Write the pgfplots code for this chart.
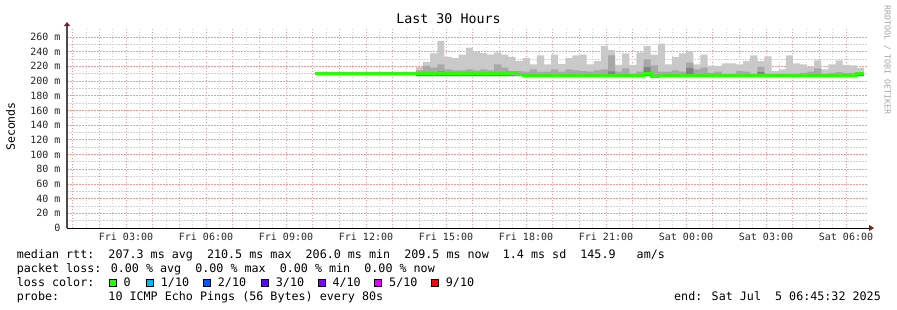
\documentclass[border=0pt]{standalone}
\usepackage{pgfplots}
\pgfplotsset{compat=1.18}
\usepackage{pgfplotstable}
\usepackage{fontspec}
\setmainfont{DejaVu Sans Mono}
\usetikzlibrary{arrows.meta}
\definecolor{smokeA}{HTML}{C9C9C9}
\definecolor{smokeB}{HTML}{A8A8A8}
\definecolor{smokeC}{HTML}{838383}
\definecolor{lossA}{HTML}{26FF00}
\definecolor{lossB}{HTML}{00B8FF}
\definecolor{lossC}{HTML}{0059FF}
\definecolor{lossD}{HTML}{5E00FF}
\definecolor{lossE}{HTML}{7E00FF}
\definecolor{lossF}{HTML}{DD00FF}
\definecolor{lossG}{HTML}{FF0000}
\definecolor{arrowred}{HTML}{7F1F1F}
\definecolor{mgrid}{HTML}{F29A9A}
\definecolor{ngrid}{HTML}{D2D2D2}
\newcommand{\legfont}{\fontsize{11.7bp}{14bp}\selectfont}
\newcommand{\lossbox}[1]{{\setlength{\fboxsep}{0pt}\setlength{\fboxrule}{0.8bp}\fcolorbox{black}{#1}{\phantom{\rule{6.4bp}{6.4bp}}}}}

\pgfplotstableread{
x max mid dark
13.875 206.5 206.5 206.5
13.875 219 214.5 208
14.142 226 220.5 208
14.408 237.7 218.2 208
14.675 254.5 222.7 213
14.942 232.7 216 208
15.208 231 214.5 208
15.475 236 214.5 208
15.742 245.5 216 208
16.008 239.5 214.5 208
16.275 238 216 208
16.542 236 214.5 208
16.808 239 222.7 212
17.075 236 218.2 208
17.342 232.7 213.6 208
17.608 227 213.6 208
17.875 231 212.7 208
18.142 222.7 216 208
18.408 235 212.7 208
18.675 222.7 212.7 208
18.942 236 216 208
19.208 223 212.7 208
19.475 231 216 208
19.742 235 214.5 208
20.008 236 213.6 208
20.275 222.7 212.7 208
20.542 227 214.5 208
20.808 247.7 216 208
21.075 242 235 213
21.342 221.8 212.7 208
21.608 237.7 217.3 208
21.875 221.8 210 208
22.142 239 212.7 208
22.408 247.7 229.5 219
22.675 236 221.4 208
22.942 251 212.7 208
23.208 222.7 212.7 208
23.475 232.7 214.5 208
23.742 237.7 212.7 208
24.008 241 225 218
24.275 222.7 216 208
24.542 236 218.2 208
24.808 221 211 208
25.075 220.5 212.7 208
25.342 224 210 208
25.608 224 210 208
25.875 222.7 213.6 208
26.142 227 212.7 208
26.408 235 210 208
26.675 227 219.1 212
26.942 233.6 210 208
27.208 213.6 210 208
27.475 216 210 208
27.742 235 210 208
28.008 224 210 208
28.275 222.7 211 208
28.542 219.5 212.7 208
28.808 228 217.3 208
29.075 216 210 208
29.342 222.7 211 208
29.608 228 212 208
29.875 221.8 211 208
30.142 221.4 211 208
30.408 218 210 208
30.675 206.5 206.5 206.5
}\smoke

\begin{document}
\begin{tikzpicture}
\path[use as bounding box] (0,0) rectangle (897bp,-310bp);
\begin{axis}[
  at={(67bp,-228bp)}, anchor=south west,
  scale only axis, width=800bp, height=201bp,
  xmin=0.7875, xmax=30.7875, ymin=0, ymax=273.5,
  axis x line=bottom, axis y line=left,
  x axis line style={draw=black, line width=1bp, -{Triangle[length=5bp,width=6bp,color=arrowred]}, shorten >=-7bp},
  y axis line style={draw=black!70, line width=1.2bp, -{Triangle[length=4bp,width=6bp,color=arrowred]}, shorten >=-5bp},
  xtick={1,...,30},
  xticklabels={,,Fri 03:00,,,Fri 06:00,,,Fri 09:00,,,Fri 12:00,,,Fri 15:00,,,Fri 18:00,,,Fri 21:00,,,Sat 00:00,,,Sat 03:00,,,Sat 06:00},
  minor x tick num=1,
  ytick={0,20,...,260},
  yticklabels={0,20 m,40 m,60 m,80 m,100 m,120 m,140 m,160 m,180 m,200 m,220 m,240 m,260 m},
  minor y tick num=1,
  grid=both,
  major tick length=0pt, minor tick length=0pt,
  major grid style={draw=mgrid, line width=0.8bp, dash pattern=on 1.5bp off 1.5bp},
  minor grid style={draw=ngrid, line width=0.8bp, dash pattern=on 1.5bp off 1.5bp},
  ticklabel style={font=\fontsize{10bp}{12bp}\selectfont, text=black!85},
  xticklabel style={anchor=base, yshift=-12.7bp},
  yticklabel style={anchor=east, xshift=-3bp},
]
\addplot[const plot, fill=smokeA, draw=none] table[x=x, y=max] {\smoke} -- cycle;
\addplot[const plot, fill=smokeB, draw=none] table[x=x, y=mid] {\smoke} -- cycle;
\addplot[const plot, fill=smokeC, draw=none] table[x=x, y=dark] {\smoke} -- cycle;
\addplot[const plot, draw=lossA, line width=3bp] coordinates {
(10.0875,210) (17.2875,211.5) (17.625,208.3) (17.8875,207) (22.3875,210) (22.6875,205.8) (22.95,207) (30.408,210.5) (30.675,210.5)};
\end{axis}
\node[font=\fontsize{13.3bp}{16bp}\selectfont] at (448.5bp,-19bp) {Last 30 Hours};
\node[rotate=90, font=\fontsize{11.5bp}{14bp}\selectfont] at (10.5bp,-126.5bp) {Seconds};
\node[rotate=-90, font=\fontsize{8.3bp}{10bp}\selectfont, text=black!35] at (887.3bp,-60bp) {RRDTOOL / TOBI OETIKER};
\node[anchor=base west, font=\legfont, inner sep=0pt] at (16.7bp,-258.3bp) {median rtt:~~207.3 ms avg~~210.5 ms max~~206.0 ms min~~209.5 ms now~~1.4 ms sd~~145.9~~~am/s};
\node[anchor=base west, font=\legfont, inner sep=0pt] at (16.7bp,-272.2bp) {packet loss: 0.00 \% avg~~0.00 \% max~~0.00 \% min~~0.00 \% now};
\node[anchor=base west, font=\legfont, inner sep=0pt] at (16.7bp,-286.3bp) {loss color:};
\node[anchor=base west, font=\legfont, inner sep=0pt] at (108.3bp,-286.3bp) {\lossbox{lossA}~0};
\node[anchor=base west, font=\legfont, inner sep=0pt] at (145.7bp,-286.3bp) {\lossbox{lossB}~1/10};
\node[anchor=base west, font=\legfont, inner sep=0pt] at (202.7bp,-286.3bp) {\lossbox{lossC}~2/10};
\node[anchor=base west, font=\legfont, inner sep=0pt] at (260.7bp,-286.3bp) {\lossbox{lossD}~3/10};
\node[anchor=base west, font=\legfont, inner sep=0pt] at (317.3bp,-286.3bp) {\lossbox{lossE}~4/10};
\node[anchor=base west, font=\legfont, inner sep=0pt] at (374bp,-286.3bp) {\lossbox{lossF}~5/10};
\node[anchor=base west, font=\legfont, inner sep=0pt] at (430.7bp,-286.3bp) {\lossbox{lossG}~9/10};
\node[anchor=base west, font=\legfont, inner sep=0pt] at (16.7bp,-300.2bp) {probe:~~~~~~~10 ICMP Echo Pings (56 Bytes) every 80s};
\node[anchor=base east, font=\legfont, inner sep=0pt] at (881bp,-300.2bp) {end: Sat Jul~~5 06:45:32 2025};
\end{tikzpicture}
\end{document}
